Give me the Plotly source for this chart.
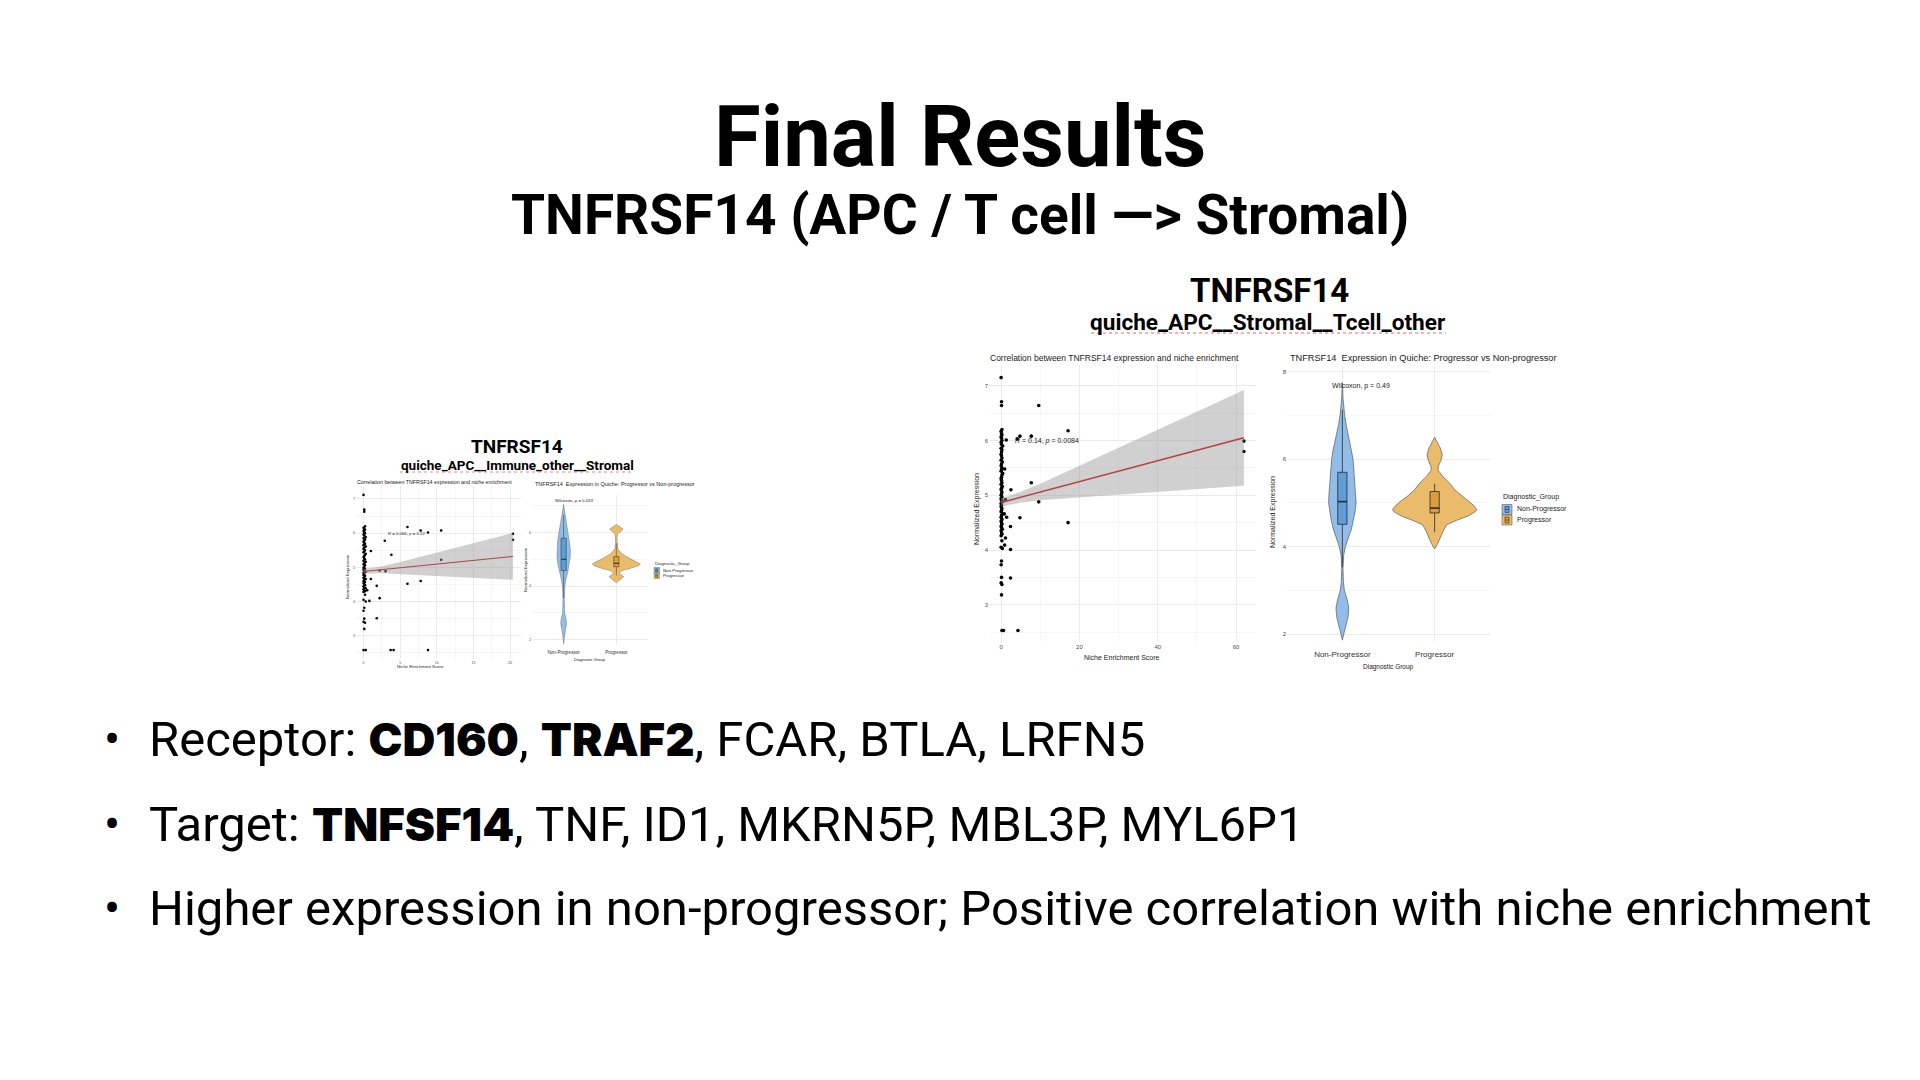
import numpy as np
import plotly.graph_objects as go

W, H = 1920, 1080
def PX(x): return x / W
def PY(y): return 1 - y / H

SLIDE_FONT = "Roboto"
GG_FONT = "Liberation Sans"

# ---------------- data ----------------
group_pos = [1, 2]
group_names = ["Non-Progressor", "Progressor"]

# ===== Right figure: quiche_APC__Stromal__Tcell_other =====
r_zero_y = [4.26, 4.29, 4.31, 4.35, 4.38, 4.41, 4.44, 4.47, 4.50, 4.53,
            4.56, 4.60, 4.63, 4.66, 4.70, 4.72, 4.76, 4.79, 4.82, 4.85,
            4.88, 4.91, 4.94, 4.97, 5.00, 5.03, 5.06, 5.10, 5.13, 5.16,
            5.20, 5.23, 5.27, 5.30, 5.33, 5.37, 5.40, 5.44, 5.47, 5.50,
            5.54, 5.57, 5.61, 5.64, 5.68, 5.72, 5.75, 5.79, 5.83, 5.86,
            5.90, 5.93, 5.97, 6.00, 6.04, 6.07, 6.10, 6.13, 6.17, 6.20,
            7.15, 6.71, 6.64, 4.17, 4.05, 4.03, 3.80, 3.73, 3.50, 3.40,
            3.37, 3.18, 2.53, 2.53]
r_zero_x = [0.0, 0.2, 0.1, 0.0, 0.3, 0.1, 0.0, 0.2, 0.1, 0.0,
            0.2, 0.0, 0.1, 0.3, 0.0, 0.1, 0.2, 0.0, 0.1, 0.0,
            0.3, 0.1, 0.0, 0.2, 0.0, 0.1, 0.2, 0.0, 0.1, 0.3,
            0.0, 0.2, 0.1, 0.0, 0.1, 0.2, 0.4, 0.0, 0.1, 0.2,
            0.0, 0.1, 0.3, 0.0, 0.2, 0.1, 0.0, 0.1, 0.2, 0.0,
            0.4, 0.1, 0.0, 0.2, 0.1, 0.0, 0.2, 0.1, 0.0, 0.2,
            0.0, 0.1, 0.1, 0.2, 0.0, 0.3, 0.1, 0.0, 0.1, 0.0,
            0.2, 0.1, 0.2, 0.6]
r_other_x = [1.3, 4.1, 4.8, 7.7, 9.6, 17.1, 62.0, 62.0, 0.9, 2.5,
             7.7, 9.6, 1.1, 0.8, 1.4, 4.8, 2.4, 17.1, 1.1, 0.9,
             2.4, 2.4, 4.3]
r_other_y = [6.01, 6.03, 6.08, 6.08, 6.64, 6.18, 5.99, 5.80, 5.48, 5.10,
             5.23, 4.88, 4.92, 4.66, 4.60, 4.59, 4.43, 4.50, 4.22, 4.09,
             4.01, 3.49, 2.53]
r_fit_x = [0, 5, 10, 20, 30, 40, 50, 62]
r_fit_y = [4.87, 4.965, 5.06, 5.25, 5.44, 5.63, 5.82, 6.05]
r_fit_lo = [4.80, 4.865, 4.91, 4.965, 5.015, 5.065, 5.115, 5.175]
r_fit_hi = [4.94, 5.065, 5.21, 5.535, 5.865, 6.195, 6.525, 6.925]
r_cor_label = "<i>R</i> = 0.14, <i>p</i> = 0.0084"
r_wilcox_label = "Wilcoxon, p = 0.49"

r_np_vy = [1.87, 2.0, 2.2, 2.4, 2.6, 2.8, 3.0, 3.2, 3.5, 3.8,
           4.0, 4.2, 4.4, 4.6, 4.8, 5.0, 5.2, 5.4, 5.6, 5.8,
           6.0, 6.2, 6.4, 6.6, 6.8, 7.0, 7.2, 7.4, 7.6, 7.75]
r_np_hw = [0, 0.014, 0.036, 0.062, 0.069, 0.051, 0.022, 0.011, 0.007, 0.014,
           0.033, 0.065, 0.098, 0.12, 0.138, 0.149, 0.145, 0.138, 0.13, 0.123,
           0.116, 0.101, 0.08, 0.058, 0.04, 0.025, 0.014, 0.007, 0.004, 0]
r_p_vy = [3.95, 4.05, 4.2, 4.35, 4.5, 4.6, 4.7, 4.8, 4.85, 4.95, 5.05,
          5.15, 5.3, 5.45, 5.6, 5.75, 5.85, 5.95, 6.1, 6.25, 6.4, 6.5]
r_p_hw = [0, 0.029, 0.062, 0.091, 0.13, 0.236, 0.362, 0.442, 0.457, 0.417, 0.362,
          0.297, 0.217, 0.163, 0.091, 0.036, 0.043, 0.065, 0.083, 0.062, 0.025, 0]
r_q1 = [4.51, 4.77]
r_med = [5.03, 4.88]
r_q3 = [5.70, 5.26]
r_lo = [3.53, 4.33]
r_hi = [7.13, 5.44]

# ===== Left figure: quiche_APC__Immune_other__Stromal =====
l_zero_y = [4.28, 4.30, 4.33, 4.36, 4.39, 4.42, 4.45, 4.48, 4.51, 4.54,
            4.57, 4.60, 4.63, 4.66, 4.69, 4.72, 4.75, 4.78, 4.81, 4.84,
            4.87, 4.90, 4.93, 4.96, 4.99, 5.02, 5.06, 5.09, 5.12, 5.16,
            5.19, 5.23, 5.26, 5.30, 5.33, 5.37, 5.40, 5.44, 5.47, 5.51,
            5.54, 5.58, 5.61, 5.65, 5.68, 5.72, 5.75, 5.79, 5.82, 5.86,
            5.89, 5.93, 5.96, 6.00, 6.03, 6.07, 6.10, 6.13, 6.16, 6.20,
            7.12, 6.69, 6.63, 4.20, 4.05, 4.00, 3.82, 3.73, 3.50, 3.41,
            3.38, 3.20, 2.58, 2.58]
l_zero_x = [0.0, 0.2, 0.1, 0.0, 0.3, 0.1, 0.0, 0.2, 0.1, 0.0,
            0.2, 0.0, 0.1, 0.3, 0.0, 0.1, 0.2, 0.0, 0.1, 0.0,
            0.3, 0.1, 0.0, 0.2, 0.0, 0.1, 0.2, 0.0, 0.1, 0.3,
            0.0, 0.2, 0.1, 0.0, 0.1, 0.2, 0.3, 0.0, 0.1, 0.2,
            0.0, 0.1, 0.3, 0.0, 0.2, 0.1, 0.0, 0.1, 0.2, 0.0,
            0.3, 0.1, 0.0, 0.2, 0.1, 0.0, 0.2, 0.1, 0.0, 0.2,
            0.0, 0.1, 0.1, 0.2, 0.0, 0.3, 0.1, 0.0, 0.1, 0.0,
            0.2, 0.1, 0.0, 0.3]
l_other_x = [0.8, 0.5, 1.0, 1.0, 1.8, 2.2, 1.8, 2.2, 2.9, 3.0,
             3.8, 3.7, 4.1, 6.0, 6.0, 7.8, 7.8, 8.8, 8.8, 10.6,
             10.6, 20.4, 20.4]
l_other_y = [4.02, 4.33, 4.66, 5.48, 4.46, 4.10, 3.51, 4.91, 5.78, 4.89,
             5.37, 2.58, 2.58, 6.18, 4.52, 6.08, 4.60, 6.02, 2.58, 6.08,
             5.22, 5.98, 5.81]
l_fit_x = [0, 2.5, 5, 10, 15, 20.4]
l_fit_y = [4.88, 4.934, 4.988, 5.096, 5.204, 5.32]
l_fit_lo = [4.81, 4.83, 4.82, 4.76, 4.70, 4.635]
l_fit_hi = [4.95, 5.03, 5.16, 5.43, 5.71, 6.005]
l_cor_label = "<i>R</i> = 0.066, <i>p</i> = 0.22"
l_wilcox_label = "Wilcoxon, p = 0.033"

l_np_vy = [1.85, 2.0, 2.2, 2.4, 2.6, 2.8, 3.0, 3.5, 3.9, 4.2,
           4.5, 4.8, 5.1, 5.4, 5.7, 6.0, 6.2, 6.5, 6.8, 7.05]
l_np_hw = [0, 0.006, 0.019, 0.038, 0.057, 0.044, 0.019, 0.013, 0.019, 0.038,
           0.076, 0.108, 0.127, 0.127, 0.114, 0.089, 0.07, 0.044, 0.019, 0]
l_p_vy = [4.12, 4.25, 4.35, 4.47, 4.57, 4.65, 4.75, 4.82, 4.9, 5.0, 5.1,
          5.2, 5.3, 5.4, 5.6, 5.8, 5.95, 6.05, 6.13, 6.2, 6.3]
l_p_hw = [0, 0.076, 0.139, 0.05, 0.1, 0.253, 0.411, 0.456, 0.392, 0.285, 0.19,
          0.114, 0.063, 0.025, 0.013, 0.013, 0.025, 0.089, 0.127, 0.076, 0]
l_q1 = [4.58, 4.72]
l_med = [5.00, 4.85]
l_q3 = [5.79, 5.10]
l_lo = [3.55, 4.40]
l_hi = [6.65, 5.60]

# ---------------- styling ----------------
VIO_FILL = ["#92bde8", "#ebbb6c"]
BOX_FILL = ["#5e9dd8", "#dc9c3c"]
OUTLINE = "#5a5a5a"
BOX_LINE = "#2b2b2b"
FIT_COLOR = "#b3423e"
BAND_FILL = "rgba(150,150,150,0.45)"
GRID = "#ebebeb"
MINOR = "#f5f5f5"
TICK_COLOR = "#4d4d4d"
SPELL = "#e46a6a"

fig = go.Figure()

def scatter_panel(xa, ya, zx, zy, ox, oy, fx, fy, flo, fhi, msize, lw):
    fig.add_trace(go.Scatter(x=list(zx) + list(ox), y=list(zy) + list(oy), mode="markers",
                             marker=dict(color="black", size=msize, line=dict(width=0)),
                             xaxis=xa, yaxis=ya, showlegend=False, hoverinfo="skip"))
    fig.add_trace(go.Scatter(x=list(fx) + list(fx)[::-1], y=list(fhi) + list(flo)[::-1],
                             fill="toself", fillcolor=BAND_FILL, line=dict(width=0),
                             mode="lines", xaxis=xa, yaxis=ya, showlegend=False, hoverinfo="skip"))
    fig.add_trace(go.Scatter(x=fx, y=fy, mode="lines", line=dict(color=FIT_COLOR, width=lw),
                             xaxis=xa, yaxis=ya, showlegend=False, hoverinfo="skip"))

def violin_panel(xa, ya, vys, hws, q1, med, q3, lo, hi, bw, olw, blw):
    for i, (vy, hw) in enumerate(zip(vys, hws)):
        c = group_pos[i]
        vy = np.array(vy); hw = np.array(hw)
        xs = np.concatenate([c - hw, (c + hw)[::-1]])
        ys = np.concatenate([vy, vy[::-1]])
        fig.add_trace(go.Scatter(x=xs, y=ys, fill="toself", fillcolor=VIO_FILL[i], mode="lines",
                                 line=dict(color=OUTLINE, width=olw), xaxis=xa, yaxis=ya,
                                 showlegend=False, hoverinfo="skip"))
    for i in range(2):
        c = group_pos[i]
        # whiskers
        fig.add_trace(go.Scatter(x=[c, c, None, c, c], y=[lo[i], q1[i], None, q3[i], hi[i]],
                                 mode="lines", line=dict(color=BOX_LINE, width=blw),
                                 xaxis=xa, yaxis=ya, showlegend=False, hoverinfo="skip"))
        # box
        fig.add_trace(go.Scatter(x=[c - bw, c + bw, c + bw, c - bw, c - bw],
                                 y=[q1[i], q1[i], q3[i], q3[i], q1[i]],
                                 fill="toself", fillcolor=BOX_FILL[i], mode="lines",
                                 line=dict(color=BOX_LINE, width=blw),
                                 xaxis=xa, yaxis=ya, showlegend=False, hoverinfo="skip"))
        # median
        fig.add_trace(go.Scatter(x=[c - bw, c + bw], y=[med[i], med[i]], mode="lines",
                                 line=dict(color=BOX_LINE, width=blw * 2),
                                 xaxis=xa, yaxis=ya, showlegend=False, hoverinfo="skip"))

# left scatter (x1,y1), left violin (x2,y2), right scatter (x3,y3), right violin (x4,y4)
scatter_panel("x", "y", l_zero_x, l_zero_y, l_other_x, l_other_y,
              l_fit_x, l_fit_y, l_fit_lo, l_fit_hi, 2.6, 1.0)
violin_panel("x2", "y2", [l_np_vy, l_p_vy], [l_np_hw, l_p_hw],
             l_q1, l_med, l_q3, l_lo, l_hi, 0.05, 0.4, 0.5)
scatter_panel("x3", "y3", r_zero_x, r_zero_y, r_other_x, r_other_y,
              r_fit_x, r_fit_y, r_fit_lo, r_fit_hi, 3.6, 1.5)
violin_panel("x4", "y4", [r_np_vy, r_p_vy], [r_np_hw, r_p_hw],
             r_q1, r_med, r_q3, r_lo, r_hi, 0.05, 0.7, 0.8)

def axis(dom, rng, tickvals, minorvals, fsize, anchor, ticktext=None, tcolor=TICK_COLOR, standoff=None):
    d = dict(domain=dom, range=rng, tickvals=tickvals, showgrid=True, gridcolor=GRID, gridwidth=1,
             zeroline=False, showline=False, ticks="", anchor=anchor,
             tickfont=dict(family=GG_FONT, size=fsize, color=tcolor),
             minor=dict(tickvals=minorvals, showgrid=True, gridcolor=MINOR, gridwidth=1, ticks=""),
             fixedrange=True)
    if ticktext is not None:
        d["ticktext"] = ticktext
    if standoff is not None:
        d["ticklabelstandoff"] = standoff
    return d

layout = dict(
    width=W, height=H, margin=dict(l=0, r=0, t=0, b=0),
    paper_bgcolor="white", plot_bgcolor="rgba(0,0,0,0)", showlegend=False,
    xaxis=axis([PX(356), PX(521)], [-1.03, 21.5], [0, 5, 10, 15, 20], [2.5, 7.5, 12.5, 17.5], 3.6, "y"),
    yaxis=axis([PY(659), PY(486)], [2.32, 7.38], [3, 4, 5, 6, 7], [2.5, 3.5, 4.5, 5.5, 6.5], 3.6, "x"),
    xaxis2=axis([PX(532), PX(648)], [0.4, 2.6], group_pos, [], 4.6, "y2", ticktext=group_names,
                tcolor="#333333", standoff=3),
    yaxis2=axis([PY(645), PY(495)], [1.8, 7.4], [2, 4, 6], [3, 5, 7], 3.6, "x2"),
    xaxis3=axis([PX(989), PX(1256)], [-3.1, 65.1], [0, 20, 40, 60], [10, 30, 50], 6, "y3"),
    yaxis3=axis([PY(642), PY(365)], [2.32, 7.38], [3, 4, 5, 6, 7], [2.5, 3.5, 4.5, 5.5, 6.5], 6, "x3"),
    xaxis4=axis([PX(1287), PX(1490)], [0.4, 2.6], group_pos, [], 8, "y4", ticktext=group_names,
                tcolor="#333333", standoff=6),
    yaxis4=axis([PY(642), PY(366)], [1.82, 8.13], [2, 4, 6, 8], [3, 5, 7], 6, "x4"),
)
fig.update_layout(**layout)

anns = []
def ann(text, x, y, size, family=SLIDE_FONT, color="black", xanchor="center", yanchor="middle",
        weight="normal", angle=0, xref="paper", yref="paper"):
    if xref == "paper":
        x = PX(x)
    if yref == "paper":
        y = PY(y)
    anns.append(dict(text=text, x=x, y=y, xref=xref, yref=yref, showarrow=False,
                     xanchor=xanchor, yanchor=yanchor, textangle=angle,
                     font=dict(family=family, size=size, color=color, weight=weight)))

# slide titles
ann("Final Results", 960, 137, 85, weight="bold")
ann("TNFRSF14 (APC / T cell —> Stromal)", 960, 215, 55, weight="bold")

# right figure headers
ann("TNFRSF14", 1269, 291, 33, weight="bold")
ann("quiche_APC__Stromal__Tcell_other", 1268, 322, 22.6, weight="bold")
# left figure headers
ann("TNFRSF14", 517, 446, 19, weight="bold")
ann("quiche_APC__Immune_other__Stromal", 517, 465, 13.5, weight="bold")

# right scatter texts
ann("Correlation between TNFRSF14 expression and niche enrichment", 988, 358, 8.5,
    family=GG_FONT, color="#222222", xanchor="left")
ann("Niche Enrichment Score", 1122, 657, 7, family=GG_FONT, color="#222222")
ann("Normalized Expression", 977, 509, 7, family=GG_FONT, color="#222222", angle=-90)
ann(r_cor_label, 3.1, 6.0, 7, family=GG_FONT, color="#222222", xanchor="left", xref="x3", yref="y3")

# right violin texts
ann("TNFRSF14  Expression in Quiche: Progressor vs Non-progressor", 1288, 358, 9.2,
    family=GG_FONT, color="#222222", xanchor="left")
ann("Diagnostic Group", 1388, 667, 6.5, family=GG_FONT, color="#222222")
ann("Normalized Expression", 1273, 512, 7, family=GG_FONT, color="#222222", angle=-90)
ann(r_wilcox_label, 1.2, 7.68, 7, family=GG_FONT, color="#222222", xref="x4", yref="y4")
ann("Diagnostic_Group", 1501, 497, 7, family=GG_FONT, color="#222222", xanchor="left")
ann(group_names[0], 1515, 509.5, 7, family=GG_FONT, color="#222222", xanchor="left")
ann(group_names[1], 1515, 520, 7, family=GG_FONT, color="#222222", xanchor="left")

# left scatter texts
ann("Correlation between TNFRSF14 expression and niche enrichment", 355, 482, 5.3,
    family=GG_FONT, color="#222222", xanchor="left")
ann("Niche Enrichment Score", 420, 666, 4.3, family=GG_FONT, color="#222222")
ann("Normalized Expression", 347, 577, 4.3, family=GG_FONT, color="#222222", angle=-90)
ann(l_cor_label, 3.0, 6.0, 4.3, family=GG_FONT, color="#222222", xanchor="left", xref="x", yref="y")

# left violin texts
ann("TNFRSF14  Expression in Quiche: Progressor vs Non-progressor", 533, 484, 5.5,
    family=GG_FONT, color="#222222", xanchor="left")
ann("Diagnostic Group", 590, 659.5, 4.0, family=GG_FONT, color="#222222")
ann("Normalized Expression", 525, 570, 4.3, family=GG_FONT, color="#222222", angle=-90)
ann(l_wilcox_label, 1.2, 7.2, 4.3, family=GG_FONT, color="#222222", xref="x2", yref="y2")
ann("Diagnostic_Group", 653, 563.5, 4.3, family=GG_FONT, color="#222222", xanchor="left")
ann(group_names[0], 661, 570.3, 4.3, family=GG_FONT, color="#222222", xanchor="left")
ann(group_names[1], 661, 575.8, 4.3, family=GG_FONT, color="#222222", xanchor="left")

# bullets
HEAVY = '<span style="font-family:Inter;font-weight:900;font-size:45.5px">%s</span>'
bullets = [
    "Receptor: " + HEAVY % "CD160" + ", " + HEAVY % "TRAF2" + ", FCAR, BTLA, LRFN5",
    "Target: " + HEAVY % "TNFSF14" + ", TNF, ID1, MKRN5P, MBL3P, MYL6P1",
    "Higher expression in non-progressor; Positive correlation with niche enrichment",
]
bullet_y = [739, 824, 908.5]
for t, by in zip(bullets, bullet_y):
    ann("•", 112, by, 48)
    ann(t, 147, by, 49, xanchor="left")

fig.update_layout(annotations=anns)

# legend keys and proofing underlines (drawn as shapes)
shapes = []
def key(x0, y0, s, i, lw):
    shapes.append(dict(type="rect", xref="paper", yref="paper", x0=PX(x0), x1=PX(x0 + s),
                       y0=PY(y0 + s), y1=PY(y0), fillcolor=VIO_FILL[i], line=dict(color=OUTLINE, width=lw)))
    shapes.append(dict(type="rect", xref="paper", yref="paper", x0=PX(x0 + s * 0.3), x1=PX(x0 + s * 0.7),
                       y0=PY(y0 + s * 0.8), y1=PY(y0 + s * 0.2), fillcolor=BOX_FILL[i],
                       line=dict(color=BOX_LINE, width=lw)))
    shapes.append(dict(type="line", xref="paper", yref="paper", x0=PX(x0 + s * 0.3), x1=PX(x0 + s * 0.7),
                       y0=PY(y0 + s * 0.5), y1=PY(y0 + s * 0.5), line=dict(color=BOX_LINE, width=lw)))

def underline(x0, x1, y, w=1.0):
    shapes.append(dict(type="line", xref="paper", yref="paper", x0=PX(x0), x1=PX(x1),
                       y0=PY(y), y1=PY(y), line=dict(color=SPELL, width=w, dash="dot")))

key(1502, 504.5, 10, 0, 0.6)
key(1502, 515, 10, 1, 0.6)
key(654, 567.5, 5.5, 0, 0.4)
key(654, 573, 5.5, 1, 0.4)
underline(1091, 1446, 333, 1.2)
underline(400, 634, 472, 0.8)
fig.update_layout(shapes=shapes)

fig.write_html("out.html")
